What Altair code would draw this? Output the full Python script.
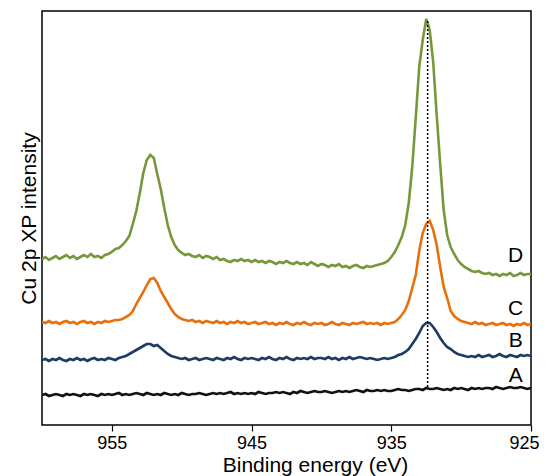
import altair as alt
import numpy as np
import pandas as pd

FONT = "Liberation Sans"

# Binding energy grid (eV), 0.25 eV steps from 960 down to 925
energy = [round(float(e), 2) for e in np.arange(960.0, 924.99, -0.25)]

# Intensities (arbitrary units), one row per eV
series_A = [
    30, 31, 29, 30,  31, 30, 29, 31,  30, 31, 30, 29,  31, 30, 31, 30,  29, 31, 30, 31,
    30, 31, 32, 30,  31, 30, 31, 32,  31, 30, 32, 31,  30, 31, 30, 32,  31, 30, 31, 30,
    32, 31, 30, 31,  31, 32, 31, 30,  31, 32, 31, 32,  31, 32, 33, 31,  32, 31, 32, 31,
    32, 31, 33, 32,  31, 32, 32, 33,  32, 33, 32, 31,  33, 32, 34, 33,  32, 33, 34, 33,
    33, 34, 33, 32,  33, 34, 33, 34,  33, 34, 35, 34,  33, 35, 34, 34,  35, 34, 35, 34,
    34, 35, 36, 35,  35, 34, 35, 36,  36, 35, 37, 36,  36, 37, 36, 35,  36, 35, 37, 36,
    37, 36, 35, 37,  36, 37, 36, 37,  37, 36, 38, 37,  36, 37, 38, 37,  37, 38, 37, 36,
    37,
]
series_B = [
    65, 66, 64, 66,  65, 67, 65, 64,  66, 65, 67, 65,  66, 64, 66, 67,  65, 66, 65, 67,
    66, 65, 67, 68,  69, 71, 73, 75,  77, 79, 81, 81,  79, 80, 77, 74,  71, 69, 68, 67,
    66, 67, 65, 66,  67, 65, 66, 67,  66, 65, 67, 66,  65, 67, 66, 68,  66, 65, 67, 66,
    67, 66, 65, 67,  66, 68, 66, 65,  67, 66, 68, 66,  65, 67, 66, 67,  66, 68, 66, 67,
    67, 66, 68, 66,  67, 65, 67, 66,  68, 66, 67, 68,  67, 66, 67, 66,  65, 66, 67, 66,
    67, 68, 70, 71,  73, 76, 81, 86,  92, 99, 102, 102,  98, 93, 87, 82,  78, 76, 73, 71,
    70, 69, 68, 69,  68, 70, 68, 69,  70, 68, 69, 71,  69, 68, 70, 69,  68, 70, 69, 70,
    69,
]
series_C = [
    103, 102, 104, 102,  103, 101, 103, 104,  102, 103, 101, 103,  104, 102, 103, 101,
    103, 102, 104, 103,  104, 105, 105, 106,  108, 110, 114, 121,  127, 133, 140, 146,
    147, 142, 134, 128,  122, 116, 111, 108,  106, 105, 104, 105,  103, 104, 102, 104,
    103, 102, 104, 102,  103, 101, 103, 102,  104, 102, 103, 101,  102, 103, 101, 102,
    103, 101, 102, 100,  102, 101, 103, 101,  100, 102, 101, 103,  101, 100, 102, 101,
    102, 100, 101, 103,  101, 100, 102, 101,  100, 102, 101, 102,  103, 101, 102, 101,
    102, 100, 102, 101,  102, 103, 106, 110,  115, 124, 137, 150,  174, 192, 201, 204,
    195, 180, 158, 138,  127, 114, 109, 106,  104, 103, 102, 101,  103, 101, 102, 100,
    101, 102, 100, 101,  102, 100, 101, 99,  101, 100, 102, 100,
    101,
]
series_D = [
    166, 168, 165, 167,  169, 166, 168, 170,  167, 169, 166, 168,  170, 168, 171, 168,
    169, 167, 170, 171,  173, 176, 177, 180,  184, 189, 201, 214,  232, 252, 265, 270,
    267, 251, 236, 217,  200, 188, 180, 175,  172, 170, 171, 169,  168, 170, 167, 169,
    168, 166, 168, 165,  166, 164, 163, 165,  164, 166, 164, 165,  163, 165, 163, 164,
    162, 164, 163, 161,  163, 162, 164, 162,  161, 163, 161, 162,  160, 163, 161, 159,
    161, 160, 158, 160,  159, 161, 158, 159,  157, 159, 160, 158,  157, 159, 158, 159,
    160, 161, 162, 164,  168, 173, 180, 188,  200, 222, 258, 307,  358, 385, 406, 395,
    363, 310, 261, 215,  190, 178, 171, 165,  161, 158, 156, 154,  153, 154, 152, 151,
    152, 150, 151, 149,  151, 150, 152, 149,  150, 152, 150, 151,
    151,
]

series_names = ["A", "B", "C", "D"]
series_colors = ["#111111", "#1d3b63", "#e8700c", "#76973a"]

# Peak marker (dotted line) and curve labels
peak_energy = 932.4
peak_from, peak_to = 38, 406
label_energy = 926.1
label_intensity = [43, 78, 110, 163]

rows = []
for name, vals in zip(series_names, [series_A, series_B, series_C, series_D]):
    for e, v in zip(energy, vals):
        rows.append({"energy": e, "intensity": v, "sample": name})
df = pd.DataFrame(rows)

rule_df = pd.DataFrame({"energy": [peak_energy], "y": [peak_from], "y2": [peak_to]})
label_df = pd.DataFrame({"energy": [label_energy] * 4, "intensity": label_intensity,
                         "sample": series_names})

xscale = alt.Scale(domain=[960, 925], nice=False, zero=False)
yscale = alt.Scale(domain=[0, 414], nice=False, zero=False)

xaxis = alt.Axis(values=[955, 945, 935, 925], title="Binding energy (eV)",
                 titleFontSize=21, titleFontWeight="normal", titleColor="black",
                 titleX=273, titleY=46, titleBaseline="alphabetic", titleAlign="center",
                 labelFontSize=18, labelColor="black", labelPadding=3,
                 labelFlush=True, labelFlushOffset=8,
                 tickSize=6, tickColor="black", tickWidth=1.2, domain=False, grid=False,
                 format="d")
yaxis = alt.Axis(labels=False, ticks=False, domain=False, grid=False,
                 title="Cu 2p XP intensity", titleFontSize=21, titleFontWeight="normal",
                 titleColor="black", titleX=-7, titleY=207, titleBaseline="alphabetic",
                 titleAlign="center")

lines = alt.Chart(df).mark_line(strokeWidth=2.6, clip=True).encode(
    x=alt.X("energy:Q", scale=xscale, axis=xaxis),
    y=alt.Y("intensity:Q", scale=yscale, axis=yaxis),
    color=alt.Color("sample:N", scale=alt.Scale(domain=series_names, range=series_colors),
                    legend=None),
    order=alt.Order("energy:Q", sort="descending"),
)

rule = alt.Chart(rule_df).mark_rule(color="black", strokeWidth=1.5, strokeDash=[2, 2]).encode(
    x=alt.X("energy:Q", scale=xscale),
    y=alt.Y("y:Q", scale=yscale),
    y2="y2:Q",
)

labels = alt.Chart(label_df).mark_text(font=FONT, fontSize=21, align="center",
                                       baseline="alphabetic", color="black").encode(
    x=alt.X("energy:Q", scale=xscale),
    y=alt.Y("intensity:Q", scale=yscale),
    text="sample:N",
)

chart = alt.layer(lines, rule, labels).properties(
    width=489, height=414,
    autosize=alt.AutoSizeParams(type="none"),
    padding={"left": 34, "top": 3, "right": 8, "bottom": 51},
).configure_view(stroke="black", strokeWidth=1.5).configure_axis(
    labelFont=FONT, titleFont=FONT
)

chart.save("out.html", embed_options={"renderer": "svg", "actions": False})
